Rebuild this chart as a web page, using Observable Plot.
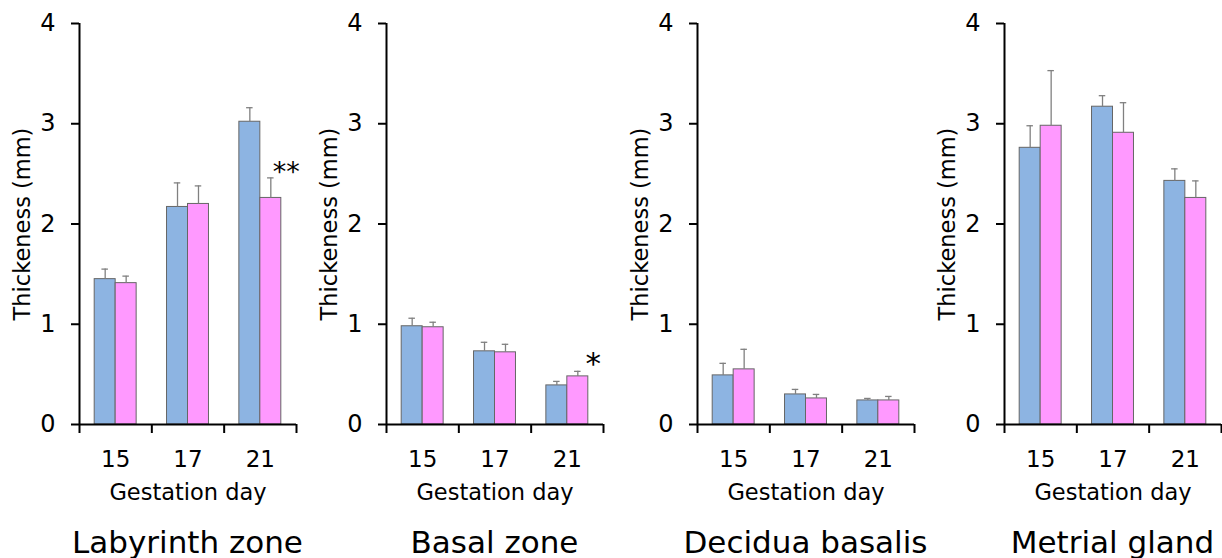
<!DOCTYPE html>
<html><head><meta charset="utf-8">
<script src="https://cdn.jsdelivr.net/npm/d3@7"></script>
<script src="https://cdn.jsdelivr.net/npm/@observablehq/plot@0.6"></script>
<style>
body{margin:0;background:#fff;width:1222px;height:558px;overflow:hidden;position:relative;font-family:"DejaVu Sans",sans-serif;}
.panel{position:absolute;top:0;width:309px;}
.panel svg{max-width:none;}
.title{position:absolute;font-size:31px;line-height:31px;text-align:center;white-space:nowrap;color:#000;font-family:"DejaVu Sans",sans-serif;}
</style></head><body>
<script>
// ---- data ----
const panelNames = ["Labyrinth zone", "Basal zone", "Decidua basalis", "Metrial gland"];
const days = ["15", "17", "21"];
const groups = ["control", "treated"];
const controlMean = [[1.45, 2.17, 3.02], [0.98, 0.73, 0.39], [0.49, 0.30, 0.24], [2.76, 3.17, 2.43]];
const controlErr  = [[0.10, 0.24, 0.14], [0.08, 0.09, 0.04], [0.12, 0.05, 0.02], [0.22, 0.11, 0.12]];
const treatedMean = [[1.41, 2.20, 2.26], [0.97, 0.72, 0.48], [0.55, 0.26, 0.24], [2.98, 2.91, 2.26]];
const treatedErr  = [[0.07, 0.18, 0.20], [0.05, 0.08, 0.05], [0.20, 0.04, 0.04], [0.55, 0.30, 0.17]];
const significance = [["", "", "**"], ["", "", "*"], ["", "", ""], ["", "", ""]];
const yTicks = [0, 1, 2, 3, 4];
const yLabel = "Thickeness (mm)";
const xLabel = "Gestation day";

// ---- layout ----
const colors = ["#8DB4E2", "#FF99FF"];
const axisPositions = [79, 386, 697, 1004];
const mL = 79, mR = 13, W = 309, H = 510, mT = 23, mB = 86;
const barOffset = 0.21, barWidth = 0.29, capHalf = 0.045;

panelNames.forEach((name, p) => {
  const rows = days.flatMap((day, i) => groups.map((g, j) => {
    const mean = (j ? treatedMean : controlMean)[p][i];
    const err = (j ? treatedErr : controlErr)[p][i];
    const x1 = i + barOffset + j * barWidth;
    return {day, i, group: g, mean, err, top: mean + err, x1, x2: x1 + barWidth,
            cx: x1 + barWidth / 2, sig: j ? significance[p][i] : ""};
  }));
  const chart = Plot.plot({
    width: W, height: H, marginLeft: mL, marginRight: mR, marginTop: mT, marginBottom: mB,
    x: {domain: [0, 3]},
    y: {domain: [0, 4]},
    color: {domain: groups, range: colors},
    style: {fontFamily: "DejaVu Sans", fontSize: "24px", color: "#000", background: "transparent", overflow: "visible", maxWidth: "none"},
    marks: [
      Plot.rect(rows, {x1: "x1", x2: "x2", y1: 0, y2: "mean", fill: "group", stroke: "#666", strokeWidth: 1}),
      Plot.ruleX(rows, {x: "cx", y1: "mean", y2: "top", stroke: "#808080", strokeWidth: 1.3}),
      Plot.ruleY(rows, {y: "top", x1: d => d.cx - capHalf, x2: d => d.cx + capHalf, stroke: "#808080", strokeWidth: 1.3}),
      Plot.ruleX([0], {stroke: "#000", strokeWidth: 2}),
      Plot.ruleY([0], {stroke: "#000", strokeWidth: 2}),
      Plot.axisY({ticks: yTicks, tickSize: 8, tickPadding: 16, tickFormat: d3.format("d"), fontSize: 24, strokeWidth: 2, label: null}),
      Plot.axisX({ticks: [0, 1, 2, 3], tickSize: 9, tickFormat: () => "", strokeWidth: 2, label: null}),
      Plot.axisX({ticks: [0.5, 1.5, 2.5], tickSize: 0, tickPadding: 26, tickFormat: v => days[Math.floor(v)], fontSize: 23, label: null}),
      Plot.text([yLabel], {text: d => d, frameAnchor: "left", textAnchor: "middle", dx: -57, rotate: -90, fontSize: 22.5, fill: "#000"}),
      Plot.text([xLabel], {text: d => d, frameAnchor: "bottom", dy: 75, lineAnchor: "bottom", fontSize: 22.5, fill: "#000"}),
      Plot.text(rows.filter(d => d.sig), {x: d => d.x2 + 0.07, y: "top", text: "sig", lineAnchor: "bottom", dy: 3,
        fontSize: d => d.sig.length > 1 ? 27 : 31, fill: "#000"})
    ]
  });
  const left = axisPositions[p] - mL;
  const div = document.createElement("div");
  div.className = "panel";
  div.style.left = left + "px";
  div.appendChild(chart);
  document.body.appendChild(div);
  const t = document.createElement("div");
  t.className = "title";
  t.textContent = name;
  t.style.left = (axisPositions[p] + (W - mL - mR) / 2 - 200) + "px";
  t.style.width = "400px";
  t.style.top = "527px";
  document.body.appendChild(t);
});
</script>
</body></html>
